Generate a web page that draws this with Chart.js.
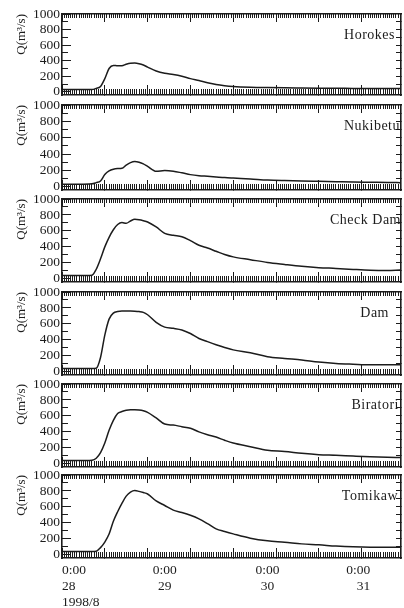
<!DOCTYPE html>
<html>
<head>
<meta charset="utf-8">
<script src="https://cdn.jsdelivr.net/npm/chart.js@4"></script>
<style>
  html, body { margin: 0; padding: 0; background: #fff; }
  body { width: 404px; height: 608px; position: relative; overflow: hidden; }
  .panel { position: absolute; left: 0; width: 404px; }
</style>
</head>
<body>
<script>
// hours after 0:00 on 1998/8/28
const hours = [0, 4, 7, 8, 9, 10, 11, 12, 13, 14, 15, 16, 17, 18, 19, 20,
  22, 24, 26, 28, 30, 32, 34, 36, 38, 40, 44, 48, 52, 56, 60, 64, 68, 72, 76, 79];

const stations = ['Horokes', 'Nukibetu', 'Check Dam', 'Dam', 'Biratori', 'Tomikaw'];

const horokeshi = [30, 30, 30, 45, 70, 170, 300, 340, 335, 335, 355, 368, 370, 362, 345, 318,
  268, 238, 222, 200, 170, 145, 118, 95, 80, 70, 60, 55, 52, 50, 48, 46, 45, 43, 42, 42];
const nukibetu = [30, 30, 35, 50, 70, 150, 195, 215, 222, 225, 265, 295, 308, 300, 280, 248,
  188, 198, 190, 170, 148, 135, 128, 120, 112, 106, 95, 82, 75, 70, 66, 62, 58, 55, 52, 50];
const checkDam = [40, 40, 45, 120, 250, 400, 520, 615, 680, 705, 695, 725, 745, 740, 728, 712,
  650, 570, 545, 528, 478, 420, 385, 345, 305, 275, 240, 205, 180, 157, 140, 130, 118, 108, 105, 110];
const dam = [40, 40, 40, 45, 180, 460, 660, 735, 755, 762, 762, 762, 760, 755, 745, 715,
  620, 560, 545, 525, 480, 418, 378, 340, 305, 275, 240, 190, 168, 148, 123, 105, 95, 87, 87, 87];
const biratori = [40, 40, 45, 70, 140, 260, 420, 545, 630, 655, 672, 678, 678, 675, 665, 645,
  575, 498, 485, 465, 445, 400, 365, 335, 295, 260, 215, 170, 155, 132, 115, 107, 97, 88, 82, 79];
const tomikawa = [40, 40, 40, 45, 90, 160, 260, 420, 540, 645, 735, 785, 805, 795, 780, 762,
  675, 618, 560, 530, 495, 450, 390, 325, 292, 262, 208, 175, 158, 137, 125, 110, 100, 96, 96, 96];

const series = [horokeshi, nukibetu, checkDam, dam, biratori, tomikawa];

const dayTicks = [0, 24, 48, 72];
const dayLabels = [['0:00', '28', '1998/8'], ['0:00', '29'], ['0:00', '30'], ['0:00', '31']];
const yLabelTicks = [0, 200, 400, 600, 800, 1000];

// layout
const panelTops = [14, 105, 199, 292, 384, 475];
const panelHeights = [81, 85, 83, 83, 83, 83];
const nameInsets = [6, 1, 0, 12, 2, 3];
const pad = 20;
const xMax = 79.2;
const yMin = -40;
const yMax = 1000;
const ink = '#1c1c1c';
const serif = '"Liberation Serif", "DejaVu Serif", serif';

const range = (from, to, step) => {
  const out = [];
  for (let v = from; v <= to + 1e-9; v += step) out.push(Math.round(v * 100) / 100);
  return out;
};
const majorHours = range(0, 70, 10);
const minorHours = range(0, 79, 0.5);
const yMinorTicks = range(100, 900, 100);

const tickOnly = (position, min, max, values, length, border) => ({
  type: 'linear',
  position,
  min,
  max,
  weight: 0,
  afterBuildTicks: (scale) => { scale.ticks = values.map((v) => ({ value: v })) },
  afterFit: (scale) => {
    if (scale.isHorizontal()) scale.height = 0
    else scale.width = 0
  },
  ticks: { display: false },
  grid: { drawOnChartArea: false, tickLength: -length, color: ink, tickWidth: 1 },
  border: { display: border, color: ink, width: 1.6 },
});

const stationLabel = {
  id: 'stationLabel',
  afterDatasetsDraw(chart, args, opts) {
    const { ctx, chartArea } = chart;
    ctx.save();
    ctx.font = '14px ' + serif;
    ctx.letterSpacing = '0.5px';
    ctx.fillStyle = ink;
    ctx.textAlign = 'right';
    ctx.textBaseline = 'middle';
    ctx.fillText(opts.text, chartArea.right - opts.inset, chartArea.top + 21);
    ctx.restore();
  }
};

const buildPanel = (index) => {
  const last = index === panelTops.length - 1;
  const top = panelTops[index] - pad;
  const wrap = document.createElement('div');
  wrap.className = 'panel';
  wrap.style.top = top + 'px';
  const canvas = document.createElement('canvas');
  canvas.width = 404;
  canvas.height = last ? 608 - top : panelHeights[index] + 2 * pad;
  wrap.appendChild(canvas);
  document.body.appendChild(wrap);

  const scales = {
    x: tickOnly('bottom', 0, xMax, majorHours, 10, true),
    xMinor: tickOnly('bottom', 0, xMax, minorHours, 6, false),
    xTop: tickOnly('top', 0, xMax, majorHours, 8, true),
    xTopMinor: tickOnly('top', 0, xMax, minorHours, 4, false),
    y: {
      type: 'linear',
      position: 'left',
      weight: 5,
      min: yMin,
      max: yMax,
      afterBuildTicks: (scale) => { scale.ticks = yLabelTicks.map((v) => ({ value: v })) },
      afterFit: (scale) => { scale.width = 62 },
      ticks: {
        padding: 11,
        autoSkip: false,
        color: ink,
        font: { family: serif, size: 13.5 },
        callback: (value) => String(value)
      },
      grid: { drawOnChartArea: false, tickLength: -9, color: ink, tickWidth: 1 },
      border: { color: ink, width: 1.6 },
      title: {
        display: true,
        text: 'Q(m³/s)',
        align: 'end',
        color: ink,
        font: { family: serif, size: 13 },
        padding: { top: 14, bottom: 0 }
      }
    },
    yMinor: tickOnly('left', yMin, yMax, yMinorTicks, 6, false),
    yRight: tickOnly('right', yMin, yMax, yMinorTicks, 5, true),
  };
  if (last) {
    scales.days = {
      type: 'linear',
      position: 'bottom',
      weight: 10,
      min: 0,
      max: xMax,
      afterBuildTicks: (scale) => { scale.ticks = dayTicks.map((v) => ({ value: v })) },
      afterFit: (scale) => { scale.height = 50 },
      grid: { display: false, drawTicks: false },
      border: { display: false },
      ticks: {
        align: 'inner',
        padding: 4,
        autoSkip: false,
        maxRotation: 0,
        color: ink,
        font: { family: serif, size: 13.5, lineHeight: 1.2 },
        callback: (value, i) => dayLabels[i]
      }
    };
  }

  new Chart(canvas, {
    type: 'line',
    data: {
      datasets: [{
        data: hours.map((h, i) => ({ x: h, y: series[index][i] })),
        borderColor: ink,
        borderWidth: 1.5,
        pointRadius: 0,
        cubicInterpolationMode: 'monotone'
      }]
    },
    options: {
      responsive: false,
      animation: false,
      layout: { padding: { top: pad, bottom: last ? 0 : pad, left: 0, right: 3 } },
      scales,
      plugins: {
        legend: { display: false },
        tooltip: { enabled: false },
        stationLabel: { text: stations[index], inset: nameInsets[index] }
      }
    },
    plugins: [stationLabel]
  });
}

stations.forEach((name, i) => buildPanel(i));
</script>
</body>
</html>
